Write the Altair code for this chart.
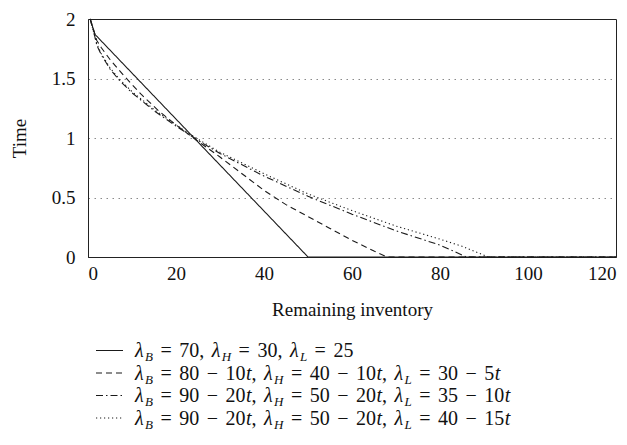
import re
import altair as alt
import pandas as pd

# ---------------- data ----------------
series_names = [
    "λB = 70, λH = 30, λL = 25",
    "λB = 80 − 10t, λH = 40 − 10t, λL = 30 − 5t",
    "λB = 90 − 20t, λH = 50 − 20t, λL = 35 − 10t",
    "λB = 90 − 20t, λH = 50 − 20t, λL = 40 − 15t",
]
legend_labels = [
    "λ_B = 70, λ_H = 30, λ_L = 25",
    "λ_B = 80 − 10t, λ_H = 40 − 10t, λ_L = 30 − 5t",
    "λ_B = 90 − 20t, λ_H = 50 − 20t, λ_L = 35 − 10t",
    "λ_B = 90 − 20t, λ_H = 50 − 20t, λ_L = 40 − 15t",
]

s1_x = [0.5, 1.6, 50, 120]
s1_y = [2.0, 1.87, 0.0, 0.0]

s2_x = [0.5, 1.5, 2, 3, 5, 8, 12, 16, 20, 24, 30, 35, 40, 45, 50, 55, 60, 65, 68, 120]
s2_y = [2.0, 1.88, 1.82, 1.76, 1.66, 1.53, 1.37, 1.23, 1.11, 1.0, 0.84, 0.70, 0.56, 0.44, 0.34, 0.24, 0.14, 0.05, 0.0, 0.0]

s3_x = [0.5, 1.5, 2, 3, 5, 7, 10, 15, 20, 25, 30, 40, 50, 60, 70, 80, 86, 120]
s3_y = [2.0, 1.86, 1.78, 1.70, 1.58, 1.49, 1.38, 1.23, 1.10, 0.98, 0.87, 0.68, 0.51, 0.36, 0.22, 0.10, 0.0, 0.0]

s4_x = [0.5, 1.5, 2, 3, 5, 7, 10, 15, 20, 25, 30, 40, 50, 60, 70, 80, 85, 91, 120]
s4_y = [2.0, 1.86, 1.79, 1.71, 1.59, 1.50, 1.39, 1.24, 1.11, 0.99, 0.88, 0.70, 0.53, 0.39, 0.26, 0.15, 0.09, 0.0, 0.0]

x_ticks = [0, 20, 40, 60, 80, 100, 120]
y_ticks = [0, 0.5, 1, 1.5, 2]

# ---------------- build tables ----------------
rows = []
for name, xs, ys in zip(series_names, [s1_x, s2_x, s3_x, s4_x], [s1_y, s2_y, s3_y, s4_y]):
    for i, (a, b) in enumerate(zip(xs, ys)):
        rows.append({"series": name, "inv": a, "time": b, "order": i})
df = pd.DataFrame(rows)

dash_range = [[1, 0], [6, 4], [7, 3, 1.5, 3], [1.2, 2.8]]
dash_scale = alt.Scale(domain=series_names, range=dash_range)
INK = "#1a1a1a"
FONT = "Liberation Serif"

# layout of the hand-built legend (pixels relative to the plot area)
TOP = 11
W, H = 528, 238
LEG_LINE_X0, LEG_LINE_X1 = 8, 35
LEG_TEXT_X0 = 47
ROW0, STEP = 344 - (TOP - 5), 22.5
FS, SUB_FS, GAP = 20, 13, 7.5
adv = {"=": 0.564, "−": 0.564, ",": 0.25}
sub_adv = {"B": 0.611, "H": 0.722, "L": 0.556}

tok = []
leg_lines = []
for r, (label, name) in enumerate(zip(legend_labels, series_names)):
    base = ROW0 + r * STEP
    leg_lines.append({"series": name, "py": base - 6.5})
    x = LEG_TEXT_X0
    for m in re.finditer(r"λ_([A-Z])|\d+|[=−,t ]", label):
        s = m.group(0)
        if s.startswith("λ"):
            tok.append({"px": x, "py": base, "text": "λ", "kind": "i"})
            x += 0.5 * FS
            tok.append({"px": x, "py": base + 4, "text": m.group(1), "kind": "s"})
            x += sub_adv[m.group(1)] * SUB_FS
        elif s == " ":
            x += GAP
        elif s.isdigit():
            tok.append({"px": x, "py": base, "text": s, "kind": "n"})
            x += 0.5 * FS * len(s)
        elif s == "t":
            x += 0.5
            tok.append({"px": x, "py": base, "text": "t", "kind": "i"})
            x += 0.278 * FS
        else:
            tok.append({"px": x, "py": base, "text": s, "kind": "n"})
            x += adv[s] * FS
tok_df = pd.DataFrame(tok)
leg_df = pd.DataFrame(leg_lines)

# ---------------- chart ----------------
lines = alt.Chart(df).mark_line(color=INK, strokeWidth=1.1).encode(
    x=alt.X("inv:Q", scale=alt.Scale(domain=[0, 120], nice=False),
            axis=alt.Axis(values=x_ticks, title="Remaining inventory", grid=False,
                          ticks=False, labelPadding=7, titlePadding=17)),
    y=alt.Y("time:Q", scale=alt.Scale(domain=[0, 2], nice=False),
            axis=alt.Axis(values=y_ticks, title="Time", format=".1~f", grid=True,
                          ticks=False, labelPadding=13, titlePadding=22,
                          gridColor="#8a8a8a", gridDash=[1.5, 4.5], gridWidth=1,
                          gridOpacity=alt.condition(
                              "datum.value <= 0 || datum.value >= 2",
                              alt.value(0), alt.value(1)))),
    strokeDash=alt.StrokeDash("series:N", scale=dash_scale, legend=None),
    order="order:Q",
    detail="series:N",
)

leg_rules = alt.Chart(leg_df).mark_rule(color=INK, strokeWidth=1.1).encode(
    x=alt.value(LEG_LINE_X0),
    x2=alt.value(LEG_LINE_X1),
    y=alt.Y("py:Q", scale=None, axis=None),
    strokeDash=alt.StrokeDash("series:N", scale=dash_scale, legend=None),
)

def text_layer(kind, size, style):
    return alt.Chart(tok_df).transform_filter(alt.datum.kind == kind).mark_text(
        align="left", baseline="alphabetic", font=FONT, fontSize=size,
        fontStyle=style, color="#111111",
    ).encode(
        x=alt.X("px:Q", scale=None, axis=None),
        y=alt.Y("py:Q", scale=None, axis=None),
        text="text:N",
    )

chart = alt.layer(
    lines, leg_rules,
    text_layer("n", FS, "normal"),
    text_layer("i", FS, "italic"),
    text_layer("s", SUB_FS, "italic"),
).resolve_scale(x="independent", y="independent").properties(
    width=W, height=H,
    autosize=alt.AutoSizeParams(type="none"),
    padding={"left": 80, "top": TOP, "right": 3, "bottom": 176 - (TOP - 8) + 3},
).configure_view(
    stroke="#222222", strokeWidth=1
).configure_axis(
    labelFont=FONT, titleFont=FONT, labelFontSize=19, titleFontSize=19,
    titleFontWeight="normal", labelColor="#111111", titleColor="#111111",
    domainColor="#222222", domainWidth=1,
)

chart.save("out.html", embed_options={"renderer": "svg", "actions": False})
